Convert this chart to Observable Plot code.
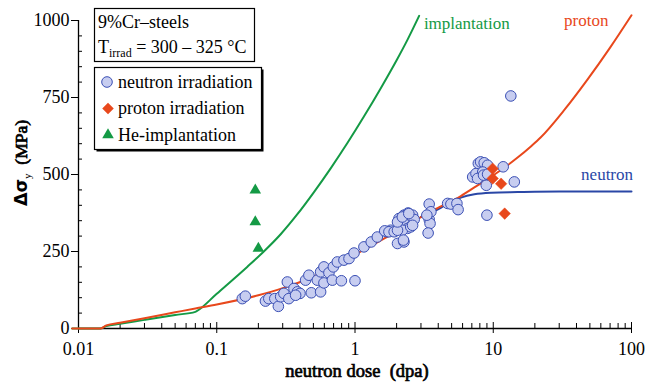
<!DOCTYPE html>
<html><head><meta charset="utf-8">
<script src="https://cdn.jsdelivr.net/npm/d3@7"></script>
<script src="https://cdn.jsdelivr.net/npm/@observablehq/plot@0.6"></script>
<style>body{margin:0;background:#fff} #chart{width:646px;height:384px}</style>
</head><body><div id="chart"></div>
<script>
// ---- data ----
const neutronDose = [0.153,0.161,0.225,0.238,0.263,0.279,0.29,0.306,0.324,0.332,0.362,0.383,0.40,0.372,0.439,0.464,0.483,0.534,0.564,0.596,0.564,0.596,0.648,0.697,0.686,0.797,0.745,0.832,0.905,0.984,1.0,1.16,1.31,1.45,1.70,1.81,1.64,1.76,1.92,2.03,2.26,2.08,2.26,2.42,2.61,2.68,2.26,2.40,2.20,2.53,2.03,2.61,3.44,3.44,3.49,3.38,3.54,3.31,4.68,4.94,5.46,5.57,7.1,7.5,7.8,8.1,8.6,9.1,8.4,7.7,8.5,9.1,8.9,11.8,14.2,9.0,13.4,2.03,2.2,2.45,2.24];
const neutronDsy  = [97,105,89,97,97,72,103,114,151,97,130,119,114,108,157,173,116,157,119,148,184,200,181,200,157,155,216,222,227,245,155,265,281,297,314,319,317,314,314,276,281,357,368,375,368,354,341,325,319,330,319,335,404,354,341,310,379,368,406,404,406,386,492,503,536,541,538,530,508,487,498,501,465,525,476,368,755,346,362,373,287];
const protonDose = [9.9, 9.9, 11.4, 12.1];
const protonDsy  = [519, 487, 470, 373];
const heDose = [0.19, 0.19, 0.2];
const heDsy  = [449, 346, 260];

const protonCurveDose = [0.009,0.0144,0.0159,0.02,0.03,0.05,0.07,0.1,0.2,0.3,0.5,1,1.62,3,3.84,5.83,7.3,9.6,12.7,15,18.8,22,33,48,70,100];
const protonCurveDsy  = [0,0,10,18.5,33.5,52.5,65,78,108,131,168,240,292,362,388,430,458,492,530,555,592,620,712,808,912,1017];
const neutronCurveDose = [3,4.17,5,5.83,7.3,9.7,15,30,100];
const neutronCurveDsy  = [362,392,412,425,436,441,443,445,445];
const implCurveDose = [0.009,0.0144,0.0159,0.02,0.03,0.05,0.07,0.072,0.1,0.166,0.219,0.29,0.383,0.505,0.667,0.881,1.16,1.54,2.0,2.4,2.91];
const implCurveDsy  = [0,0,8,15,28,44,54,57,113,200,250,306,371,443,520,602,688,781,871,938,1015];

const xMajor = [0.01, 0.1, 1, 10, 100];
const xMajorLabels = ["0.01", "0.1", "1", "10", "100"];
const xMinor = [2,3,4,5,6,7,8,9].flatMap(k => [0.01,0.1,1,10].map(d => k*d));
const yMajor = [0, 250, 500, 750, 1000];
const yMinor = d3.range(50, 1000, 50).filter(v => v % 250 !== 0);

const curveLabels = [
  {text: "implantation", dose: 3.15, dsy: 989, color: "#149a45"},
  {text: "proton", dose: 32.5, dsy: 999, color: "#e8481c"},
  {text: "neutron", dose: 43.2, dsy: 499, color: "#2a47a6"}
];

// ---- colors ----
const RED = "#e8481c", GREEN = "#149a45", BLUE = "#2a47a6";
const CFILL = "#c7cdf0", CSTROKE = "#3a4fb4";
const FONT = "Liberation Serif, Times New Roman, serif";

const zip = (xs, ys) => xs.map((x, i) => ({x, y: ys[i]}));

const plot = Plot.plot({
  width: 646, height: 384,
  marginLeft: 78, marginRight: 15, marginTop: 20, marginBottom: 56,
  style: {fontFamily: FONT, fontSize: "18px", background: "white", color: "black", overflow: "visible"},
  x: {type: "log", domain: [0.01, 100]},
  y: {domain: [0, 1000]},
  marks: [
    // axes
    Plot.axisX({ticks: xMajor, tickSize: 11, dy: -6, tickFormat: () => "", label: null}),
    Plot.text(xMajor, {x: d => d, y: 0, dy: 21, text: d => xMajorLabels[xMajor.indexOf(d)], fontFamily: FONT, fontSize: 18, lineAnchor: "middle"}),
    Plot.axisX({ticks: xMinor, tickSize: 5, dy: -5, tickFormat: () => "", label: null}),
    Plot.axisY({ticks: yMajor, tickSize: 7, tickPadding: 2, label: null, fontSize: 18, fontFamily: FONT, fontVariant: "normal", tickFormat: d3.format("d")}),
    Plot.axisY({ticks: yMinor, tickSize: 4, dx: 4, tickFormat: () => "", label: null}),
    Plot.ruleX([0.01], {y1: 0, y2: 1000, strokeWidth: 1.3}),
    Plot.ruleY([0], {x1: 0.01, x2: 100, strokeWidth: 1.3}),
    // curves
    Plot.line(zip(implCurveDose, implCurveDsy), {x: "x", y: "y", stroke: GREEN, strokeWidth: 2, curve: "monotone-x"}),
    Plot.line(zip(neutronCurveDose, neutronCurveDsy), {x: "x", y: "y", stroke: BLUE, strokeWidth: 2, curve: "monotone-x"}),
    Plot.line(zip(protonCurveDose, protonCurveDsy), {x: "x", y: "y", stroke: RED, strokeWidth: 2, curve: "monotone-x"}),
    // data
    Plot.dot(zip(neutronDose, neutronDsy), {x: "x", y: "y", r: 5.3, fill: CFILL, stroke: CSTROKE, strokeWidth: 1}),
    Plot.dot(zip(protonDose, protonDsy), {x: "x", y: "y", r: 5.2, symbol: "diamond2", fill: RED, stroke: RED, strokeWidth: 0.5}),
    Plot.dot(zip(heDose, heDsy), {x: "x", y: "y", r: 4.3, symbol: "triangle", fill: GREEN}),
    // curve labels
    Plot.text(curveLabels, {x: "dose", y: "dsy", text: "text", fill: "color", textAnchor: "start", fontSize: 17, fontFamily: FONT})
  ]
});

document.getElementById("chart").appendChild(plot);
const svg = d3.select(plot);

function txt(x, y, size, anchor) {
  return svg.append("text").attr("x", x).attr("y", y)
    .style("font-family", FONT).style("font-size", size + "px")
    .attr("text-anchor", anchor || "start").style("white-space", "pre");
}
// emulate bold serif with a thin stroke of the same colour
function boldish(sel) {
  return sel.attr("fill", "black").attr("stroke", "black").attr("stroke-width", 0.7).attr("paint-order", "stroke");
}

// axis titles
boldish(txt(357, 377, 18.5, "middle")).text("neutron dose  (dpa)");
const yt = boldish(svg.append("text")
  .attr("transform", "translate(27,163) rotate(-90)")
  .attr("text-anchor", "middle").style("font-family", FONT).style("font-size", "17.5px")
  .style("white-space", "pre"));
yt.append("tspan").style("font-family", "DejaVu Sans").style("font-weight", "bold").attr("stroke-width", 0).text("Δσ");
yt.append("tspan").style("font-size", "11px").attr("stroke-width", 0).attr("dy", 4).text("y");
yt.append("tspan").attr("dy", -4).text("  (MPa)");

// info box
svg.append("rect").attr("x", 94.5).attr("y", 8.5).attr("width", 160).attr("height", 53)
  .attr("fill", "white").attr("stroke", "black").attr("stroke-width", 1.2);
txt(98, 28, 18).text("9%Cr–steels");
const t2 = txt(98, 53, 18);
t2.append("tspan").text("T");
t2.append("tspan").style("font-size", "12px").attr("dy", 4).text("irrad");
t2.append("tspan").attr("dy", -4).text(" = 300 – 325 °C");

// legend box with shadow
svg.append("rect").attr("x", 96.5).attr("y", 69.5).attr("width", 167).attr("height", 82).attr("fill", "black");
svg.append("rect").attr("x", 94.5).attr("y", 67.5).attr("width", 167).attr("height", 82)
  .attr("fill", "white").attr("stroke", "black").attr("stroke-width", 1.2);
const legendItems = ["neutron irradiation", "proton irradiation", "He-implantation"];
const legendY = [82, 108.5, 135];
svg.append("circle").attr("cx", 107).attr("cy", legendY[0]).attr("r", 5.3).attr("fill", CFILL).attr("stroke", CSTROKE);
svg.append("path").attr("d", d3.symbol(d3.symbolDiamond2, Math.PI * 5.2 * 5.2)()).attr("transform", `translate(108,${legendY[1]})`).attr("fill", RED);
svg.append("path").attr("d", d3.symbol(d3.symbolTriangle, Math.PI * 4.3 * 4.3)()).attr("transform", `translate(108,${legendY[2]})`).attr("fill", GREEN);
legendItems.forEach((s, i) => {
  txt(118, legendY[i], 18).attr("dy", "0.33em").text(s);
});
</script>
</body></html>
